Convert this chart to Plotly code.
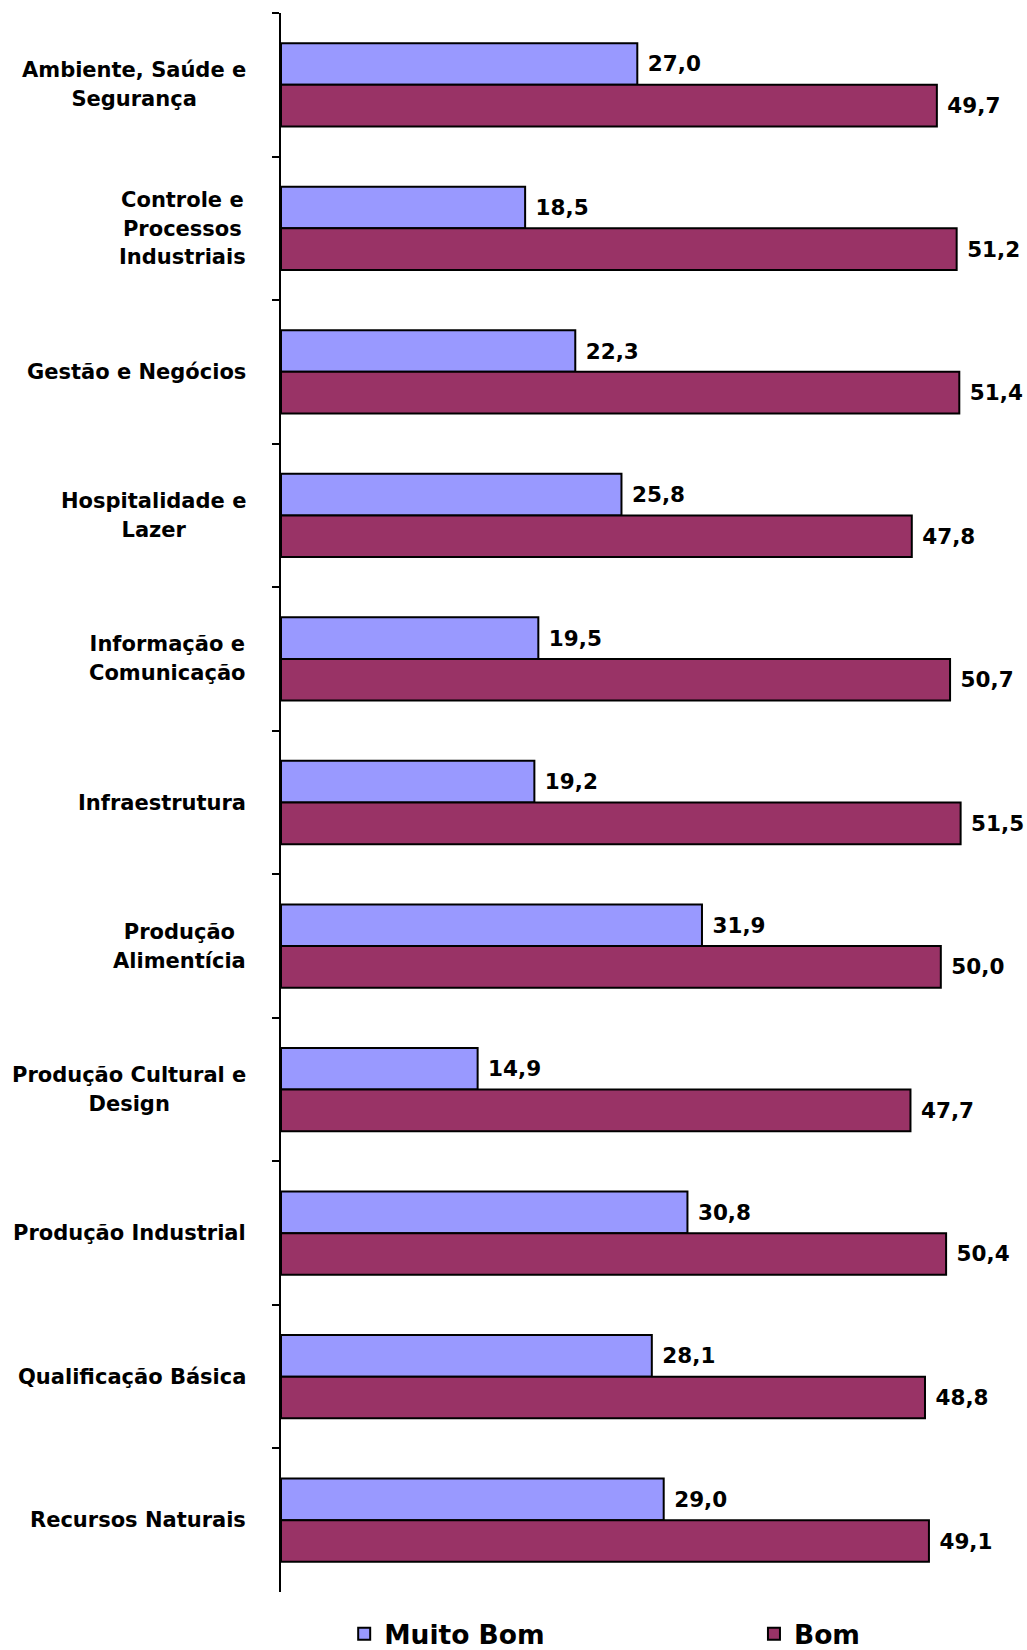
import plotly.graph_objects as go

categories = [
    "Ambiente, Saúde e<br>Segurança",
    "Controle e<br>Processos<br>Industriais",
    "Gestão e Negócios",
    "Hospitalidade e<br>Lazer",
    "Informação e<br>Comunicação",
    "Infraestrutura",
    "Produção<br>Alimentícia",
    "Produção Cultural e<br>Design",
    "Produção Industrial",
    "Qualificação Básica",
    "Recursos Naturais",
]
muito_bom = [27.0, 18.5, 22.3, 25.8, 19.5, 19.2, 31.9, 14.9, 30.8, 28.1, 29.0]
bom = [49.7, 51.2, 51.4, 47.8, 50.7, 51.5, 50.0, 47.7, 50.4, 48.8, 49.1]

FONT = "DejaVu Sans"


def fmt(v):
    return "\u00a0" + f"{v:.1f}".replace(".", ",")


fig = go.Figure()
fig.add_trace(go.Bar(
    y=categories, x=muito_bom, orientation="h", name="Muito Bom",
    marker=dict(color="#9999FF", line=dict(color="#000000", width=2)),
    text=[fmt(v) for v in muito_bom], textposition="outside",
    textfont=dict(family=FONT, size=21.5, color="#000000", weight="bold"),
    cliponaxis=False, legend="legend",
))
fig.add_trace(go.Bar(
    y=categories, x=bom, orientation="h", name="Bom",
    marker=dict(color="#993366", line=dict(color="#000000", width=2)),
    text=[fmt(v) for v in bom], textposition="outside",
    textfont=dict(family=FONT, size=21.5, color="#000000", weight="bold"),
    cliponaxis=False, legend="legend2",
))

annotations = []
for c in categories:
    annotations.append(dict(
        xref="paper", yref="y", x=-0.044, y=c,
        text=f'<span style="font-size:21px">{c}</span>',
        showarrow=False, xanchor="right", yanchor="middle", align="center",
        font=dict(family=FONT, size=22, color="#000000", weight="bold"),
    ))

legend_common = dict(
    orientation="h", yanchor="middle", xanchor="left", y=-0.0266,
    font=dict(family=FONT, size=26.5, color="#000000", weight="bold"),
    bgcolor="rgba(0,0,0,0)", itemwidth=30,
)

fig.update_layout(
    width=1027, height=1650,
    margin=dict(l=281, r=7, t=13, b=58, autoexpand=False),
    plot_bgcolor="#FFFFFF", paper_bgcolor="#FFFFFF",
    barmode="group", bargap=0.42, bargroupgap=0,
    font=dict(family=FONT, color="#000000"),
    xaxis=dict(range=[0, 56], visible=False, showgrid=False, zeroline=False),
    yaxis=dict(
        autorange="reversed", showticklabels=False, showgrid=False,
        showline=True, linecolor="#000000", linewidth=2,
        ticks="outside", ticklen=7, tickwidth=2, tickcolor="#000000",
        tickson="boundaries",
    ),
    legend=dict(x=0.0855, **legend_common),
    legend2=dict(x=0.64, **legend_common),
    annotations=annotations,
    showlegend=True,
)

fig.write_html(
    "out.html",
    config={"displayModeBar": False},
    post_script="document.body.style.margin='0';document.body.style.overflow='hidden';",
)
